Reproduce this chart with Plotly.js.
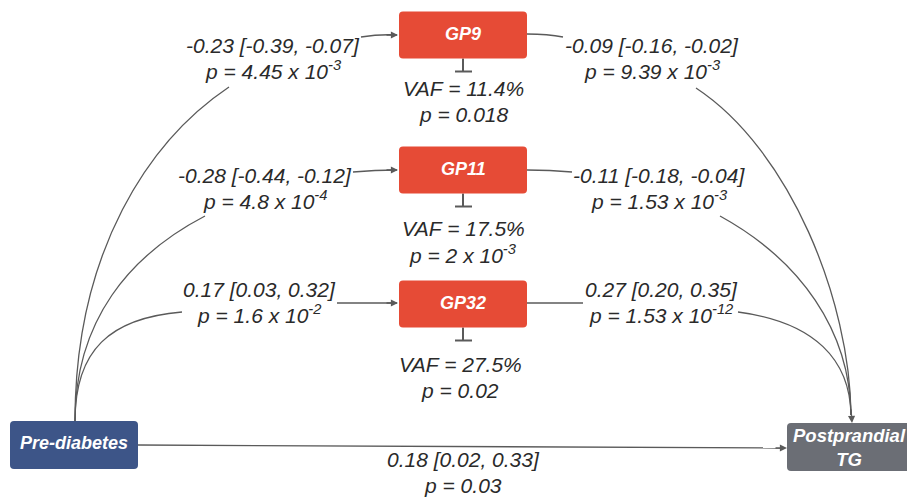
<!DOCTYPE html>
<html><head><meta charset="utf-8">
<script src="https://cdn.plot.ly/plotly-3.0.1.min.js"></script>
<style>html,body{margin:0;padding:0;background:#fff;}#c{width:907px;height:498px;}</style>
</head><body><div id="c"></div>
<script>
// ---- data ----
const mediators = ["GP9", "GP11", "GP32"];
const pathA = ["-0.23 [-0.39, -0.07]", "-0.28 [-0.44, -0.12]", "0.17 [0.03, 0.32]"];
const pathAp = ["p = 4.45 x 10<sup>-3</sup>", "p = 4.8 x 10<sup>-4</sup>", "p = 1.6 x 10<sup>-2</sup>"];
const pathB = ["-0.09 [-0.16, -0.02]", "-0.11 [-0.18, -0.04]", "0.27 [0.20, 0.35]"];
const pathBp = ["p = 9.39 x 10<sup>-3</sup>", "p = 1.53 x 10<sup>-3</sup>", "p = 1.53 x 10<sup>-12</sup>"];
const vaf = ["VAF = 11.4%", "VAF = 17.5%", "VAF = 27.5%"];
const vafP = ["p = 0.018", "p = 2 x 10<sup>-3</sup>", "p = 0.02"];
const exposure = "Pre-diabetes";
const outcome = "Postprandial<br>TG";
const direct = "0.18 [0.02, 0.33]";
const directP = "p = 0.03";

// ---- layout geometry ----
const rowY = [35, 170, 304];        // mediator box centre y
const boxX0 = 399, boxX1 = 527, boxH = 47;
const lineCol = "#5a5a5a";
const txtCol = "#2a2a2a";
const FONT = "Liberation Sans, Arial, sans-serif";

function rrect(x0, y0, x1, y1, r) {
  return `M${x0+r},${y0} L${x1-r},${y0} Q${x1},${y0} ${x1},${y0+r} L${x1},${y1-r} Q${x1},${y1} ${x1-r},${y1} L${x0+r},${y1} Q${x0},${y1} ${x0},${y1-r} L${x0},${y0+r} Q${x0},${y0} ${x0+r},${y0} Z`;
}

const shapes = [];
const ann = [];
function txt(x, y, t, opt) {
  ann.push(Object.assign({x, y, xref: 'x', yref: 'y', text: t, showarrow: false,
    font: {family: FONT, size: 21, color: txtCol, style: 'italic'}, xanchor: 'center', yanchor: 'middle'}, opt || {}));
}
function line(p, w) {
  shapes.push({type: 'path', path: p, line: {color: lineCol, width: w || 1.3}, layer: 'below'});
}
function arrow(x, y, ax, ay) {
  ann.push({x, y, ax, ay, xref: 'x', yref: 'y', axref: 'x', ayref: 'y', text: '', showarrow: true,
    arrowhead: 2, arrowsize: 1.1, arrowwidth: 1.3, arrowcolor: lineCol, standoff: 0});
}

// boxes
mediators.forEach((m, i) => {
  const y0 = rowY[i] - boxH / 2, y1 = rowY[i] + boxH / 2;
  shapes.push({type: 'path', path: rrect(boxX0, y0, boxX1, y1, 4), fillcolor: '#e64b36', line: {width: 0}});
  txt(463, rowY[i] - 1, "<b>" + m + "</b>", {font: {family: FONT, size: 18, color: '#fff', style: 'italic'}});
  // T-bar
  line(`M463,${y1} L463,${y1 + 13}`, 2);
  line(`M455,${y1 + 13} L472,${y1 + 13}`, 2);
});
shapes.push({type: 'path', path: rrect(10, 421, 138, 469, 4), fillcolor: '#3d5588', line: {width: 0}});
shapes.push({type: 'path', path: rrect(787, 423, 915, 471, 4), fillcolor: '#6b6e75', line: {width: 0}});
txt(74, 443, "<b>" + exposure + "</b>", {font: {family: FONT, size: 18, color: '#fff', style: 'italic'}});
txt(849, 447, "<b>" + outcome + "</b>", {font: {family: FONT, size: 18.5, color: '#fff', style: 'italic'}});

// text labels
const aX = [273, 265, 259], bX = [652, 659, 661], vX = [463, 463, 460];
const vY = [88, 228, 364];
[0, 1, 2].forEach(i => {
  const ty = [45, 175, 289][i];
  txt(aX[i], ty, pathA[i]);
  txt(aX[i], ty + 25, pathAp[i]);
  txt(bX[i], ty, pathB[i]);
  txt(bX[i], ty + 25, pathBp[i]);
  txt(vX[i], vY[i], vaf[i]);
  txt(vX[i], vY[i] + 26, vafP[i]);
});
txt(463, 459, direct);
txt(463, 485, directP);

// connectors: exposure -> mediators
line("M75,421 C75,250 150,140 229,87");
line("M361,37 Q380,34 397,35");
arrow(398, 35, 385, 35);
line("M75,421 C75,320 130,255 205,216");
line("M353,172 Q375,170 397,170");
arrow(398, 170, 385, 170);
line("M75,421 C75,350 110,318 182,312");
line("M337,303 L397,303");
arrow(398, 303, 385, 303);

// mediators -> outcome
line("M527,34 Q548,34 563,37");
line("M696,88 C790,150 850,300 851,415");
line("M527,170 Q550,170 572,172");
line("M720,216 C800,260 850,330 851,415");
line("M527,303 L583,303");
line("M738,312 C815,322 850,360 851,415");
arrow(852, 423, 851, 408);

// direct
line("M138,445 L780,448");
arrow(787, 448, 774, 448);

Plotly.newPlot('c', [], {
  width: 907, height: 498,
  margin: {l: 0, r: 0, t: 0, b: 0},
  paper_bgcolor: '#fff', plot_bgcolor: '#fff',
  xaxis: {range: [0, 907], visible: false, fixedrange: true},
  yaxis: {range: [498, 0], visible: false, fixedrange: true},
  shapes, annotations: ann, showlegend: false
}, {staticPlot: true});
</script></body></html>
